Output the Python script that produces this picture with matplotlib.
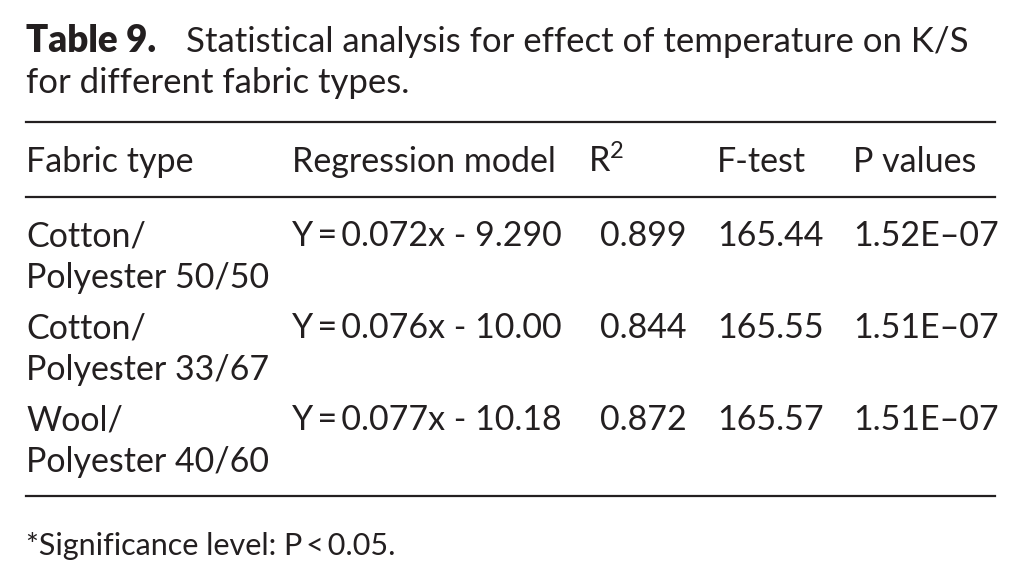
import matplotlib.pyplot as plt

# table content
fabric_types = [["Cotton/", "Polyester 50/50"],
                ["Cotton/", "Polyester 33/67"],
                ["Wool/", "Polyester 40/60"]]
slopes = [0.072, 0.076, 0.077]
intercepts = [9.290, 10.00, 10.18]
r_squared = [0.899, 0.844, 0.872]
f_test = [165.44, 165.55, 165.57]
p_values = [1.52e-07, 1.51e-07, 1.51e-07]
headers = ["Fabric type", "Regression model", "R$^{2}$", "F-test", "P values"]

W, H = 1021, 584
FONT = ["Lato", "DejaVu Sans"]
SIZE = 24.5

plt.rcParams["mathtext.fontset"] = "custom"
plt.rcParams["mathtext.rm"] = "Lato"
plt.rcParams["mathtext.it"] = "Lato:italic"
plt.rcParams["mathtext.bf"] = "Lato:bold"

fig = plt.figure(figsize=(W / 100, H / 100), dpi=100)
fig.patch.set_facecolor("white")


def put(x, y, s, **kw):
    # pixel coords from top-left, baseline aligned
    kw.setdefault("fontsize", SIZE)
    kw.setdefault("family", FONT)
    fig.text(x / W, 1 - y / H, s, va="baseline", ha="left", color="#231f20", **kw)


def rule(y):
    fig.add_artist(plt.Line2D([26 / W, 995 / W], [1 - y / H, 1 - y / H],
                              color="#231f20", lw=1.6))


def fmt_p(v):
    s = "%.2E" % v
    return s.replace("-", "\u2013")


# caption
put(26, 52, "Table 9.", fontweight="heavy", fontsize=26.5)
put(186, 52, "Statistical analysis for effect of temperature on K/S", fontsize=25)
put(26, 93, "for different fabric types.", fontsize=25)

rule(122)
col_x = [26, 292, 588, 717, 853]
for x, h in zip(col_x, headers):
    put(x, 172, h)
rule(197)

row_y = [246, 338, 430]
for i, y in enumerate(row_y):
    put(col_x[0], y, fabric_types[i][0])
    put(col_x[0], y + 42, fabric_types[i][1])
    put(col_x[1], y, "Y\u2009=\u2009%.3fx - %s" % (slopes[i], format(intercepts[i], "#.4g")))
    put(600, y, "%.3f" % r_squared[i])
    put(col_x[3], y, "%.2f" % f_test[i])
    put(col_x[4], y, fmt_p(p_values[i]))
rule(496)

put(26, 555, "*Significance level: P\u2009<\u20090.05.", fontsize=22)

fig.savefig("out.png", dpi=100)
